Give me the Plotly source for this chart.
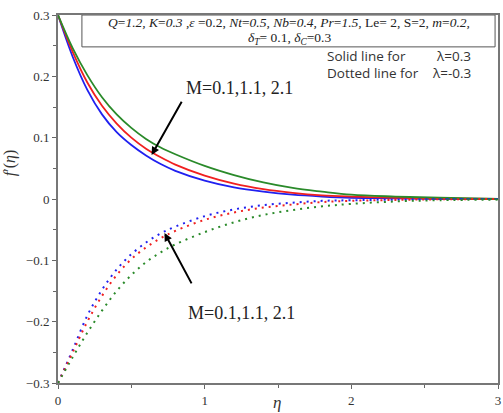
import plotly.graph_objects as go

eta = [0, 0.1, 0.2, 0.3, 0.4, 0.5, 0.6, 0.7, 0.8, 1.0, 1.2, 1.4, 1.6, 1.8, 2.0, 2.3, 2.6, 3.0]

# lambda = 0.3 (solid)
solid_M01 = [0.3, 0.232, 0.178, 0.138, 0.109, 0.088, 0.071, 0.057, 0.046, 0.030, 0.019, 0.012, 0.007, 0.004, 0.002, 0.001, 0.0, 0.0]
solid_M11 = [0.3, 0.240, 0.190, 0.152, 0.123, 0.100, 0.082, 0.068, 0.056, 0.038, 0.025, 0.016, 0.010, 0.006, 0.004, 0.002, 0.001, 0.0]
solid_M21 = [0.3, 0.246, 0.202, 0.166, 0.138, 0.116, 0.098, 0.084, 0.073, 0.054, 0.039, 0.027, 0.018, 0.012, 0.007, 0.004, 0.002, 0.0]

# lambda = -0.3 (dotted)
dot_M01 = [-0.3, -0.246, -0.190, -0.148, -0.115, -0.090, -0.071, -0.056, -0.045, -0.028, -0.017, -0.010, -0.006, -0.003, -0.002, -0.001, 0.0, 0.0]
dot_M11 = [-0.3, -0.250, -0.200, -0.158, -0.124, -0.098, -0.079, -0.064, -0.052, -0.034, -0.022, -0.014, -0.009, -0.005, -0.003, -0.0015, -0.0005, 0.0]
dot_M21 = [-0.3, -0.258, -0.218, -0.182, -0.150, -0.124, -0.103, -0.087, -0.074, -0.054, -0.038, -0.026, -0.018, -0.012, -0.008, -0.004, -0.002, -0.001]

colors = ["#2020f0", "#f02020", "#2a8a2a"]

x_ticks = [0, 1, 2, 3]
x_ticklabels = ["0", "1", "2", "3"]
y_ticks = [-0.3, -0.2, -0.1, 0, 0.1, 0.2, 0.3]
y_ticklabels = ["\u22120.3", "\u22120.2", "\u22120.1", "0", "0.1", "0.2", "0.3"]

fig = go.Figure()
for ys, c in zip([solid_M01, solid_M11, solid_M21], colors):
    fig.add_trace(go.Scatter(x=eta, y=ys, mode="lines", line=dict(color=c, width=1.8, shape="spline"),
                             showlegend=False, hoverinfo="skip"))
for ys, c in zip([dot_M01, dot_M11, dot_M21], colors):
    fig.add_trace(go.Scatter(x=eta, y=ys, mode="lines", line=dict(color=c, width=2, dash="2px,5px", shape="spline"),
                             showlegend=False, hoverinfo="skip"))

serif = "Liberation Serif"
tickfont = dict(family=serif, size=13, color="#333")

fig.update_layout(
    width=503, height=413,
    margin=dict(l=58, r=3, t=15, b=30),
    paper_bgcolor="white", plot_bgcolor="white",
    xaxis=dict(range=[0, 3], tickvals=x_ticks, ticktext=x_ticklabels, ticks="outside", ticklen=4,
               tickcolor="#666", showline=True, linecolor="#777", linewidth=2, mirror=True,
               showgrid=False, zeroline=False, tickfont=tickfont,
               minor=dict(tickvals=[0.5, 1.5, 2.5], ticks="outside", ticklen=3, tickcolor="#666")),
    yaxis=dict(range=[-0.3, 0.3], tickvals=y_ticks, ticktext=y_ticklabels, ticks="outside", ticklen=4,
               tickcolor="#666", showline=True, linecolor="#777", linewidth=2, mirror=True,
               showgrid=False, zeroline=False, tickfont=tickfont,
               minor=dict(tickvals=[-0.25, -0.15, -0.05, 0.05, 0.15, 0.25], ticks="outside", ticklen=3, tickcolor="#666")),
)

# parameter box
fig.add_shape(type="rect", xref="x", yref="y", x0=0.163, x1=2.98, y0=0.248, y1=0.3,
              line=dict(color="#555", width=1), fillcolor="white", layer="above")
fig.add_annotation(x=1.575, y=0.287, xref="x", yref="y", showarrow=False,
                   text="<i>Q</i>=<i>1.2, K</i>=<i>0.3 ,ε</i> =0.2, <i>Nt</i>=<i>0.5, Nb</i>=<i>0.4, Pr</i>=<i>1.5,</i> Le= 2, S=2, <i>m</i>=<i>0.2,</i>",
                   font=dict(family=serif, size=13.5, color="#222"))
fig.add_annotation(x=1.575, y=0.261, xref="x", yref="y", showarrow=False,
                   text="<i>δ<sub>T</sub></i>= 0.1, <i>δ<sub>C</sub></i>=0.3",
                   font=dict(family=serif, size=13.5, color="#222"))

sans = "Open Sans"
lfont = dict(family=sans, size=13.5, color="#333")
fig.add_annotation(x=(327 - 58) / 147.33, y=(199 - 56) / 613.3, xref="x", yref="y", xanchor="left",
                   showarrow=False, borderpad=0, text="Solid line for", font=lfont)
fig.add_annotation(x=(437 - 58) / 147.33, y=(199 - 56) / 613.3, xref="x", yref="y", xanchor="left",
                   showarrow=False, borderpad=0, text="λ=0.3", font=lfont)
fig.add_annotation(x=(327 - 58) / 147.33, y=(199 - 73) / 613.3, xref="x", yref="y", xanchor="left",
                   showarrow=False, borderpad=0, text="Dotted line for", font=lfont)
fig.add_annotation(x=(433 - 58) / 147.33, y=(199 - 73) / 613.3, xref="x", yref="y", xanchor="left",
                   showarrow=False, borderpad=0, text="λ=-0.3", font=lfont)

# M labels and arrows
fig.add_annotation(x=1.235, y=0.181, xref="x", yref="y", showarrow=False, text="M=0.1,1.1, 2.1",
                   font=dict(family=serif, size=18, color="#222"))
fig.add_annotation(x=0.638, y=0.0717, ax=0.849, ay=0.161, xref="x", yref="y", axref="x", ayref="y",
                   showarrow=True, arrowhead=2, arrowsize=0.8, arrowwidth=2, arrowcolor="black", text="")
fig.add_annotation(x=1.25, y=-0.186, xref="x", yref="y", showarrow=False, text="M=0.1,1.1, 2.1",
                   font=dict(family=serif, size=18, color="#222"))
fig.add_annotation(x=0.726, y=-0.0554, ax=0.916, ay=-0.140, xref="x", yref="y", axref="x", ayref="y",
                   showarrow=True, arrowhead=2, arrowsize=0.8, arrowwidth=2, arrowcolor="black", text="")

# axis titles
fig.add_annotation(x=(10 - 58) / 442, y=(383 - 163) / 368, xref="paper", yref="paper", showarrow=False,
                   text="<i>f</i>′(<i>η</i>)", textangle=-90, xanchor="center", yanchor="middle",
                   font=dict(family=serif, size=16, color="#333"))
fig.add_annotation(x=(278 - 58) / 147.33, y=-0.3, xref="x", yref="y", yshift=-19, showarrow=False,
                   text="<i>η</i>", font=dict(family=serif, size=17, color="#333"))

fig.write_html("out.html")
